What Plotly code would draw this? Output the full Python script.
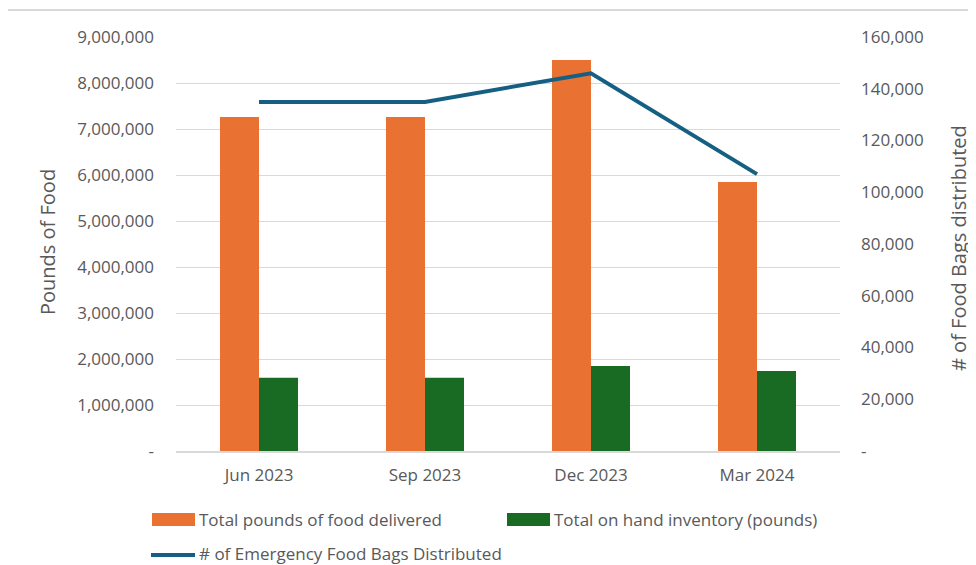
import plotly.graph_objects as go

categories = ["Jun 2023", "Sep 2023", "Dec 2023", "Mar 2024"]
pounds_delivered = [7260000, 7260000, 8500000, 5850000]
on_hand_inventory = [1590000, 1590000, 1850000, 1740000]
bags_distributed = [134900, 134900, 146000, 107000]

left_tickvals = [0, 1000000, 2000000, 3000000, 4000000, 5000000, 6000000, 7000000, 8000000, 9000000]
left_ticktext = ["-", "1,000,000", "2,000,000", "3,000,000", "4,000,000", "5,000,000",
                 "6,000,000", "7,000,000", "8,000,000", "9,000,000"]
right_tickvals = [0, 20000, 40000, 60000, 80000, 100000, 120000, 140000, 160000]
right_ticktext = ["-", "20,000", "40,000", "60,000", "80,000", "100,000", "120,000", "140,000", "160,000"]

# page places the figure at an 8px body offset; work in reference pixels and shift
OFF = 8
W, H = 976 - OFF, 565 - OFF
L, R, T, B = 176 - OFF, 840 - OFF, 37 - OFF, 451 - OFF
FONT = "Open Sans"
GREY = "#595959"
ORANGE = "#E97132"
GREEN = "#196B24"
BLUE = "#156082"

def px(x):
    return (x - OFF - L) / (R - L)

def py(y):
    return (B - (y - OFF)) / (B - T)

fig = go.Figure()
fig.add_trace(go.Bar(x=categories, y=pounds_delivered, name="Total pounds of food delivered",
                     marker=dict(color=ORANGE, line=dict(width=0))))
fig.add_trace(go.Bar(x=categories, y=on_hand_inventory, name="Total on hand inventory (pounds)",
                     marker=dict(color=GREEN, line=dict(width=0))))
fig.add_trace(go.Scatter(x=categories, y=bags_distributed, name="# of Emergency Food Bags Distributed",
                         mode="lines", line=dict(color=BLUE, width=4), yaxis="y2"))

shapes = [
    dict(type="line", xref="paper", yref="paper", x0=px(0), x1=px(976), y0=py(10), y1=py(10),
         line=dict(color="#d9d9d9", width=2)),
    dict(type="rect", xref="paper", yref="paper", x0=px(152), x1=px(195), y0=py(526), y1=py(513),
         fillcolor=ORANGE, line=dict(width=0)),
    dict(type="rect", xref="paper", yref="paper", x0=px(507), x1=px(550), y0=py(526), y1=py(513),
         fillcolor=GREEN, line=dict(width=0)),
    dict(type="line", xref="paper", yref="paper", x0=px(151), x1=px(195), y0=py(555), y1=py(555),
         line=dict(color=BLUE, width=4)),
]

annotations = [
    dict(text="Total pounds of food delivered", x=px(197), y=py(519), xref="paper", yref="paper",
         xanchor="left", yanchor="middle", showarrow=False, font=dict(size=17, color=GREY, family=FONT)),
    dict(text="Total on hand inventory (pounds)", x=px(552), y=py(519), xref="paper", yref="paper",
         xanchor="left", yanchor="middle", showarrow=False, font=dict(size=17, color=GREY, family=FONT)),
    dict(text="# of Emergency Food Bags Distributed", x=px(197), y=py(553), xref="paper", yref="paper",
         xanchor="left", yanchor="middle", showarrow=False, font=dict(size=17, color=GREY, family=FONT)),
    dict(text="Pounds of Food", x=px(47), y=py(242), xref="paper", yref="paper", textangle=-90,
         xanchor="center", yanchor="middle", showarrow=False, font=dict(size=20, color=GREY, family=FONT)),
    dict(text="# of Food Bags distributed", x=px(958), y=py(248), xref="paper", yref="paper", textangle=-90,
         xanchor="center", yanchor="middle", showarrow=False, font=dict(size=20, color=GREY, family=FONT)),
]

fig.update_layout(
    width=W, height=H,
    margin=dict(l=L, r=W - R, t=T, b=H - B, pad=0),
    paper_bgcolor="white", plot_bgcolor="white",
    barmode="group", bargap=0.53, bargroupgap=0,
    showlegend=False,
    font=dict(family=FONT, color=GREY, size=17),
    xaxis=dict(showgrid=False, showline=True, linecolor="#d9d9d9", linewidth=1.5,
               ticks="", ticklabelstandoff=8, tickfont=dict(size=17, color=GREY)),
    yaxis=dict(range=[0, 9000000], tickvals=left_tickvals, ticktext=left_ticktext,
               showgrid=True, gridcolor="#d9d9d9", gridwidth=1, zeroline=False, showline=False,
               ticks="", ticklabelstandoff=21, tickfont=dict(size=17, color=GREY)),
    yaxis2=dict(range=[0, 160000], tickvals=right_tickvals, ticktext=right_ticktext,
                overlaying="y", side="right", showgrid=False, zeroline=False, showline=False,
                ticks="", ticklabelstandoff=20, tickfont=dict(size=17, color=GREY)),
    shapes=shapes,
    annotations=annotations,
)

fig.write_html("out.html")
